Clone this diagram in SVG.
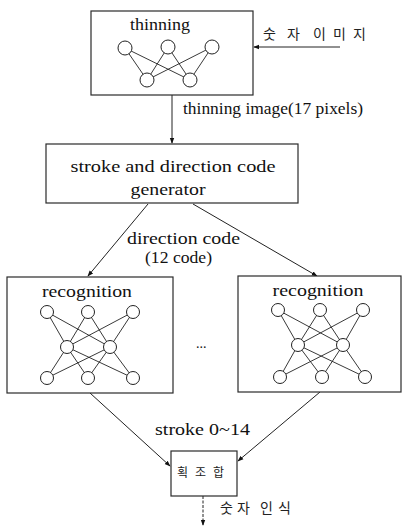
<svg xmlns="http://www.w3.org/2000/svg" width="402" height="526" viewBox="0 0 402 526">
<style>
.box{fill:#fff;stroke:#2a2a2a;stroke-width:1.2}
.n{fill:#fff;stroke:#222;stroke-width:1}
.e{stroke:#222;stroke-width:0.9}
.c{stroke:#222;stroke-width:1;fill:none}
.t{font-family:"Liberation Serif",serif;fill:#111}
.k{font-family:"Noto Sans CJK KR",sans-serif;fill:#222}
</style>
<defs>
<marker id="ah" viewBox="0 0 8 8" refX="7" refY="4" markerWidth="6" markerHeight="6" markerUnits="userSpaceOnUse" orient="auto">
<path d="M0,1 L8,4 L0,7 z" fill="#111"/>
</marker>
</defs>
<rect width="402" height="526" fill="#fff"/>
<g id="connectors">
<path class="c" d="M340,47 L254,47" marker-end="url(#ah)"/>
<path class="c" d="M172,95 L172,143" marker-end="url(#ah)"/>
<path class="c" d="M148,204 L88,276" marker-end="url(#ah)"/>
<path class="c" d="M193,204 L317,276" marker-end="url(#ah)"/>
<path class="c" d="M90,393 L170,466" marker-end="url(#ah)"/>
<path class="c" d="M320,392 L238,461" marker-end="url(#ah)"/>
<path class="c" d="M203,496 L203,525" stroke-dasharray="3,1.5" marker-end="url(#ah)"/>
<text class="t" x="183" y="114" font-size="16" textLength="180" lengthAdjust="spacingAndGlyphs">thinning image(17 pixels)</text>
<text class="t" x="127" y="244" font-size="17" textLength="113" lengthAdjust="spacingAndGlyphs">direction code</text>
<text class="t" x="145" y="263" font-size="17" textLength="67" lengthAdjust="spacingAndGlyphs">(12 code)</text>
<text class="t" x="155" y="435" font-size="17" textLength="95" lengthAdjust="spacingAndGlyphs">stroke 0~14</text>
<text class="k" x="263 287 313 333 353" y="39" font-size="14">숫자이미지</text>
<text class="k" x="220 237 260 278" y="513" font-size="14">숫자인식</text>
<text class="t" x="196" y="348" font-size="14">...</text>
</g>
<g id="thinning">
<rect class="box" x="91" y="11" width="162" height="84"/>
<text class="t" x="160" y="30" font-size="17" text-anchor="middle" textLength="60" lengthAdjust="spacingAndGlyphs">thinning</text>
<g class="e">
<line x1="125" y1="48" x2="147" y2="80"/><line x1="125" y1="48" x2="190" y2="80"/>
<line x1="168" y1="47" x2="147" y2="80"/><line x1="168" y1="47" x2="190" y2="80"/>
<line x1="212" y1="47" x2="147" y2="80"/><line x1="212" y1="47" x2="190" y2="80"/>
</g>
<circle class="n" cx="125" cy="48" r="7"/><circle class="n" cx="168" cy="47" r="7"/><circle class="n" cx="212" cy="47" r="7"/>
<circle class="n" cx="147" cy="80" r="7"/><circle class="n" cx="190" cy="80" r="7"/>
</g>
<g id="generator">
<rect class="box" x="46" y="144" width="252" height="59"/>
<text class="t" x="173" y="172" font-size="17" text-anchor="middle" textLength="205" lengthAdjust="spacingAndGlyphs">stroke and direction code</text>
<text class="t" x="168" y="195" font-size="17" text-anchor="middle" textLength="75" lengthAdjust="spacingAndGlyphs">generator</text>
</g>
<g id="recognition-left">
<rect class="box" x="7" y="277" width="166" height="116"/>
<text class="t" x="87" y="297" font-size="17" text-anchor="middle" textLength="90" lengthAdjust="spacingAndGlyphs">recognition</text>
<g class="e">
<line x1="47" y1="312" x2="67" y2="347"/><line x1="47" y1="312" x2="110" y2="347"/>
<line x1="88" y1="312" x2="67" y2="347"/><line x1="88" y1="312" x2="110" y2="347"/>
<line x1="133" y1="312" x2="67" y2="347"/><line x1="133" y1="312" x2="110" y2="347"/>
<line x1="67" y1="347" x2="47" y2="378"/><line x1="67" y1="347" x2="88" y2="378"/><line x1="67" y1="347" x2="133" y2="378"/>
<line x1="110" y1="347" x2="47" y2="378"/><line x1="110" y1="347" x2="88" y2="378"/><line x1="110" y1="347" x2="133" y2="378"/>
</g>
<circle class="n" cx="47" cy="312" r="6.5"/><circle class="n" cx="88" cy="312" r="6.5"/><circle class="n" cx="133" cy="312" r="6.5"/>
<circle class="n" cx="67" cy="347" r="6.5"/><circle class="n" cx="110" cy="347" r="6.5"/>
<circle class="n" cx="47" cy="378" r="6.5"/><circle class="n" cx="88" cy="378" r="6.5"/><circle class="n" cx="133" cy="378" r="6.5"/>
</g>
<g id="recognition-right">
<rect class="box" x="238" y="276" width="163" height="116"/>
<text class="t" x="318" y="296" font-size="17" text-anchor="middle" textLength="91" lengthAdjust="spacingAndGlyphs">recognition</text>
<g class="e">
<line x1="278" y1="310" x2="298" y2="345"/><line x1="278" y1="310" x2="343" y2="345"/>
<line x1="320" y1="310" x2="298" y2="345"/><line x1="320" y1="310" x2="343" y2="345"/>
<line x1="363" y1="310" x2="298" y2="345"/><line x1="363" y1="310" x2="343" y2="345"/>
<line x1="298" y1="345" x2="280" y2="377"/><line x1="298" y1="345" x2="322" y2="377"/><line x1="298" y1="345" x2="365" y2="377"/>
<line x1="343" y1="345" x2="280" y2="377"/><line x1="343" y1="345" x2="322" y2="377"/><line x1="343" y1="345" x2="365" y2="377"/>
</g>
<circle class="n" cx="278" cy="310" r="6.5"/><circle class="n" cx="320" cy="310" r="6.5"/><circle class="n" cx="363" cy="310" r="6.5"/>
<circle class="n" cx="298" cy="345" r="6.5"/><circle class="n" cx="343" cy="345" r="6.5"/>
<circle class="n" cx="280" cy="377" r="6.5"/><circle class="n" cx="322" cy="377" r="6.5"/><circle class="n" cx="365" cy="377" r="6.5"/>
</g>
<g id="combine">
<rect class="box" x="171" y="451" width="66" height="45"/>
<text class="k" x="177 195 213" y="477" font-size="12">획조합</text>
</g>
</svg>
